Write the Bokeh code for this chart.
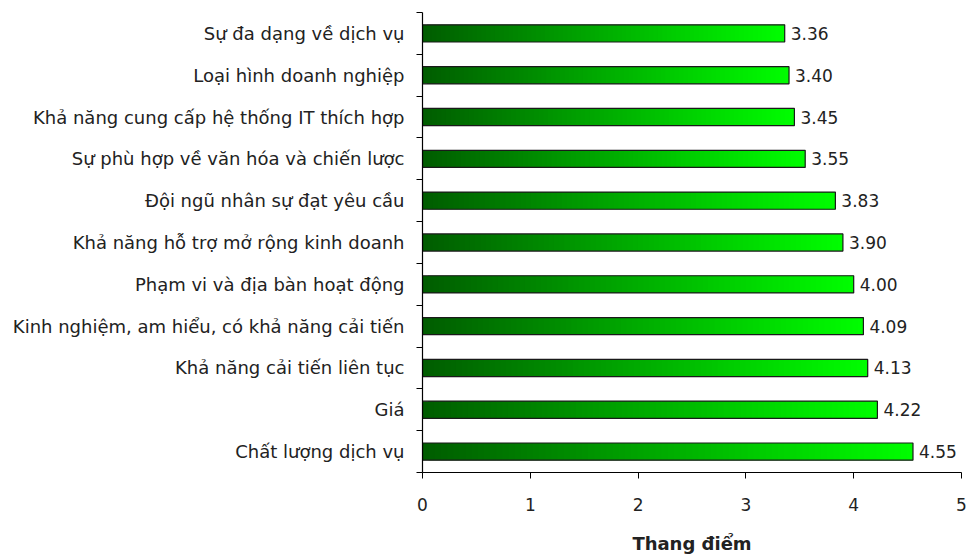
from bokeh.plotting import figure
from bokeh.models import FixedTicker, CustomJSTickFormatter, Range1d, ColumnDataSource
from bokeh.embed import file_html
from bokeh.resources import INLINE
from bokeh.core.properties import value

# Data, listed top to bottom as in the chart
categories = [
    "Sự đa dạng về dịch vụ",
    "Loại hình doanh nghiệp",
    "Khả năng cung cấp hệ thống IT thích hợp",
    "Sự phù hợp về văn hóa và chiến lược",
    "Đội ngũ nhân sự đạt yêu cầu",
    "Khả năng hỗ trợ mở rộng kinh doanh",
    "Phạm vi và địa bàn hoạt động",
    "Kinh nghiệm, am hiểu, có khả năng cải tiến",
    "Khả năng cải tiến liên tục",
    "Giá",
    "Chất lượng dịch vụ",
]
scores = [3.36, 3.40, 3.45, 3.55, 3.83, 3.90, 4.00, 4.09, 4.13, 4.22, 4.55]
x_ticks = [0, 1, 2, 3, 4, 5]
x_title = "Thang điểm"

FONT = "DejaVu Sans"
TXT = "#222222"

n = len(categories)
# bottom-to-top order for numeric y positions
cats_bt = categories[::-1]
vals_bt = scores[::-1]
ys = [i + 0.5 for i in range(n)]

p = figure(width=972, height=559, output_backend="svg", toolbar_location=None,
           x_range=Range1d(0, 5), y_range=Range1d(0, n),
           min_border_left=422, min_border_right=11, min_border_top=12,
           min_border_bottom=87)
p.outline_line_color = None
p.xgrid.visible = False
p.ygrid.visible = False
p.background_fill_color = "white"
p.border_fill_color = "white"

# gradient bars: each bar split in thin overlapping slices from dark to bright green
N = 80
c0 = (0, 92, 0)
c1 = (0, 255, 0)
lefts, rights, yy, cols = [], [], [], []
for y, v in zip(ys, vals_bt):
    for k in range(N):
        t = (k + 0.5) / N
        g = int(c0[1] + (c1[1] - c0[1]) * t)
        lefts.append(v * k / N)
        rights.append(min(v, v * (k + 2.0) / N))
        yy.append(y)
        cols.append("#%02x%02x%02x" % (0, g, 0))
grad = ColumnDataSource(dict(left=lefts, right=rights, y=yy, color=cols))
BAR_H = 0.41
p.hbar(y="y", left="left", right="right", height=BAR_H, fill_color="color",
       line_color=None, source=grad)

src = ColumnDataSource(dict(y=ys, v=vals_bt, lab=["%.2f" % v for v in vals_bt]))
p.hbar(y="y", left=0, right="v", height=BAR_H, fill_color=None,
       line_color="#1a1a1a", line_width=1.2, source=src)

p.text(x="v", y="y", text="lab", source=src, x_offset=6,
       text_align="left", text_baseline="middle",
       text_font=value(FONT), text_font_size="17px", text_color=TXT)

# x axis
xa = p.xaxis[0]
xa.ticker = FixedTicker(ticks=x_ticks)
xa.axis_line_color = "black"
xa.axis_line_width = 1.2
xa.major_tick_line_color = "black"
xa.major_tick_out = 6
xa.major_tick_in = 0
xa.minor_tick_line_color = None
xa.major_label_text_font = FONT
xa.major_label_text_font_size = "17px"
xa.major_label_text_color = TXT
xa.major_label_standoff = 19
xa.axis_label = x_title
xa.axis_label_text_font = FONT
xa.axis_label_text_font_style = "bold"
xa.axis_label_text_font_size = "18px"
xa.axis_label_text_color = TXT
xa.axis_label_standoff = 19

# y axis: labels at centres, tick marks at boundaries
ya = p.yaxis[0]
ya.ticker = FixedTicker(ticks=ys, minor_ticks=list(range(n + 1)))
ya.formatter = CustomJSTickFormatter(args=dict(labels=cats_bt),
                                     code="return labels[Math.round(tick - 0.5)];")
ya.axis_line_color = "black"
ya.axis_line_width = 1.2
ya.major_tick_line_color = None
ya.major_tick_out = 0
ya.major_tick_in = 0
ya.minor_tick_line_color = "black"
ya.minor_tick_out = 6
ya.minor_tick_in = 0
ya.major_label_text_font = FONT
ya.major_label_text_font_size = "18px"
ya.major_label_text_color = TXT
ya.major_label_standoff = 12

open("out.html", "w").write(file_html(p, INLINE))
